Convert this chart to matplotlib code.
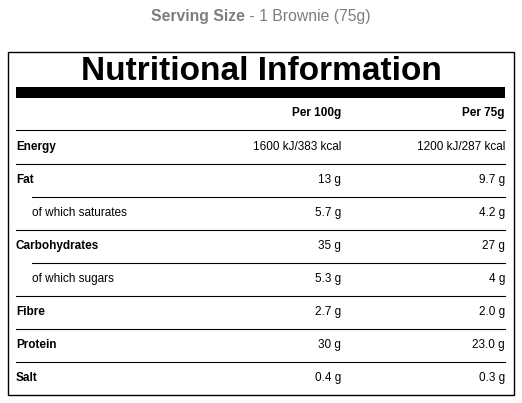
import matplotlib.pyplot as plt

nutrients = ['Energy', 'Fat', 'of which saturates', 'Carbohydrates', 'of which sugars',
             'Fibre', 'Protein', 'Salt']
is_sub = [False, False, True, False, True, False, False, False]
per_100g = ['1600 kJ/383 kcal', '13 g', '5.7 g', '35 g', '5.3 g', '2.7 g', '30 g', '0.4 g']
per_75g = ['1200 kJ/287 kcal', '9.7 g', '4.2 g', '27 g', '4 g', '2.0 g', '23.0 g', '0.3 g']
col_headers = ['Per 100g', 'Per 75g']

plt.rcParams['font.family'] = ['Liberation Sans', 'DejaVu Sans']
fig = plt.figure(figsize=(5.22, 4.03), dpi=100)
ax = fig.add_axes([0, 0, 1, 1])
ax.set_xlim(0, 522)
ax.set_ylim(403, 0)
ax.axis('off')

ax.text(245, 16, 'Serving Size', ha='right', va='center', fontsize=11.3, color='#7a7f85',
        fontweight='bold')
ax.text(245, 16, ' - 1 Brownie (75g)', ha='left', va='center', fontsize=11.3, color='#7a7f85')

ax.add_patch(plt.Rectangle((8, 52), 506, 343, fill=False, ec='black', lw=1))
ax.text(261, 72, 'Nutritional Information', ha='center', va='center', fontsize=24,
        fontweight='bold')
ax.add_patch(plt.Rectangle((16, 87), 489, 11, color='black', lw=0))

ax.text(341, 113, col_headers[0], ha='right', va='center', fontsize=8.5, fontweight='bold')
ax.text(505, 113, col_headers[1], ha='right', va='center', fontsize=8.5, fontweight='bold')
ax.plot([16, 505], [130, 130], color='black', lw=0.8)

row_h = 33
for i, name in enumerate(nutrients):
    y = 147 + i * row_h
    if is_sub[i]:
        ax.text(32, y, name, ha='left', va='center', fontsize=8.5)
    else:
        ax.text(16, y, name, ha='left', va='center', fontsize=8.5, fontweight='bold')
    ax.text(341, y, per_100g[i], ha='right', va='center', fontsize=8.5)
    ax.text(505, y, per_75g[i], ha='right', va='center', fontsize=8.5)
    if i < len(nutrients) - 1:
        x0 = 32 if is_sub[i + 1] else 16
        ax.plot([x0, 505], [y + 16.5, y + 16.5], color='black', lw=0.8)

fig.savefig('out.png', dpi=100)
